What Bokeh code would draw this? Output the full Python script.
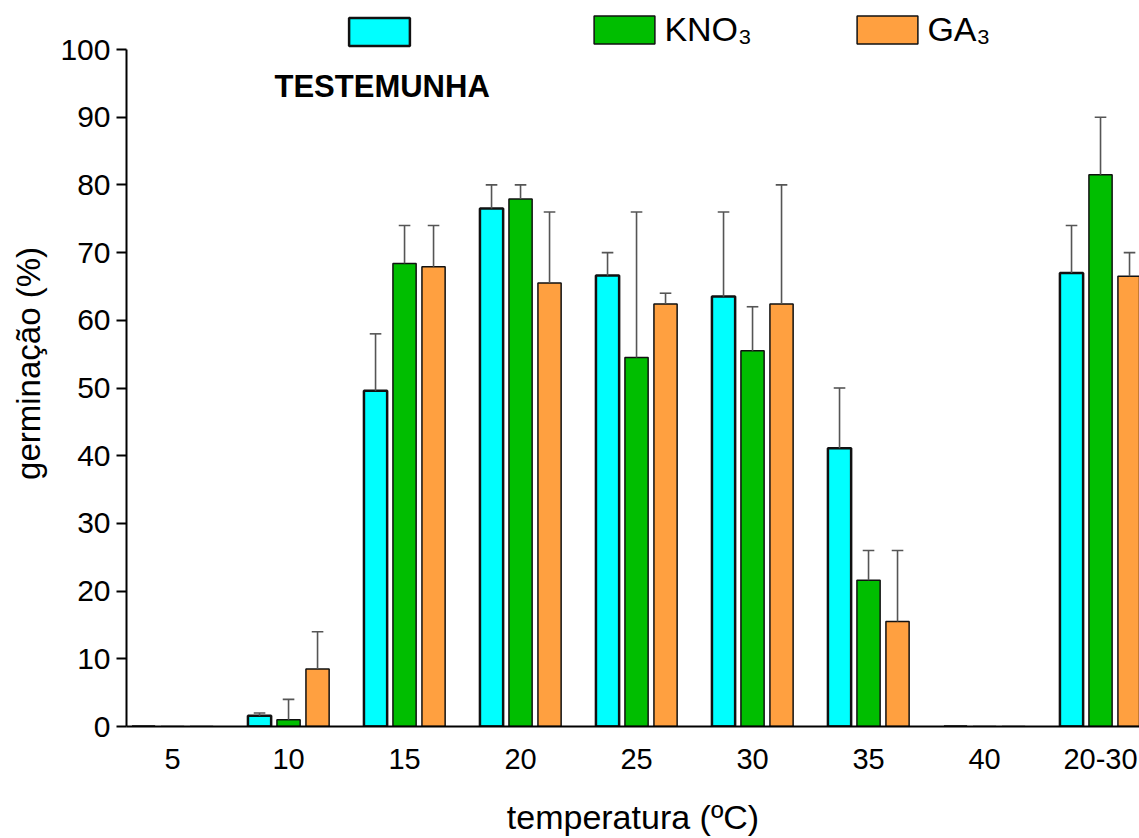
import numpy as np
from bokeh.plotting import figure
from bokeh.models import Range1d, FixedTicker, Legend, LegendItem, Label, ColumnDataSource
from bokeh.embed import file_html
from bokeh.resources import INLINE

# ---- data ----
temps = ["5", "10", "15", "20", "25", "30", "35", "40", "20-30"]
testemunha = [0, 1.6, 49.6, 76.5, 66.6, 63.5, 41.1, 0, 67.0]
kno3 = [0, 1.0, 68.4, 77.9, 54.5, 55.5, 21.6, 0, 81.5]
ga3 = [0, 8.5, 67.9, 65.5, 62.4, 62.4, 15.5, 0, 66.5]
# upper ends of the error bars (nan = none)
testemunha_err = [np.nan, 2.0, 58, 80, 70, 76, 50, np.nan, 74]
kno3_err = [np.nan, 4.0, 74, 80, 76, 62, 26, np.nan, 90]
ga3_err = [np.nan, 14.0, 74, 76, 64, 80, 26, np.nan, 70]
y_ticks = [0, 10, 20, 30, 40, 50, 60, 70, 80, 90, 100]

FONT = "Liberation Sans"
W, H = 1139, 838
PX_PER_UNIT = 6.77
FRAME_H = 726

p = figure(width=W, height=H, output_backend="svg", toolbar_location=None,
           x_range=Range1d(-0.397, 8.336), y_range=Range1d(0, FRAME_H / PX_PER_UNIT),
           min_border_left=126, min_border_right=0, min_border_top=0, min_border_bottom=112)
p.frame_width = W - 126
p.frame_height = FRAME_H
p.outline_line_color = None
p.grid.visible = False
p.background_fill_color = "white"

idx = np.arange(len(temps))
series = [
    (testemunha, testemunha_err, -0.25, "#00FFFF", 2.5, " "),
    (kno3, kno3_err, 0.0, "#00BE00", 1.5, "KNO\u2083"),
    (ga3, ga3_err, 0.25, "#FFA040", 1.5, "GA\u2083"),
]
bw = 0.2
cap = 0.05
renderers = []
for vals, errs, off, col, lw, lab in series:
    x = idx + off
    src = ColumnDataSource(dict(x=x, top=vals))
    r = p.vbar(x="x", top="top", width=bw, bottom=0, source=src, fill_color=col,
               line_color="#111111", line_width=lw)
    renderers.append((r, lab))
    v = np.array(vals, dtype=float)
    e = np.array(errs, dtype=float)
    m = ~np.isnan(e) & (e > v)
    p.segment(x0=x[m], y0=v[m], x1=x[m], y1=e[m], line_color="#555555", line_width=1.6)
    p.segment(x0=x[m] - cap, y0=e[m], x1=x[m] + cap, y1=e[m], line_color="#555555", line_width=1.6)

# axes
xa = p.xaxis[0]
xa.ticker = FixedTicker(ticks=list(idx))
xa.major_label_overrides = {int(i): t for i, t in zip(idx, temps)}
xa.major_tick_line_color = None
xa.minor_tick_line_color = None
xa.axis_line_width = 2
xa.major_label_text_font = FONT
xa.major_label_text_font_size = "29px"
xa.major_label_text_color = "black"
xa.major_label_standoff = 16
xa.axis_label = "temperatura (\u00baC)"
xa.axis_label_text_font = FONT
xa.axis_label_text_font_size = "34px"
xa.axis_label_text_font_style = "normal"
xa.axis_label_text_color = "black"
xa.axis_label_standoff = 26

ya = p.yaxis[0]
ya.ticker = FixedTicker(ticks=y_ticks)
ya.bounds = (0, 100)
ya.major_tick_out = 10
ya.major_tick_in = 0
ya.major_tick_line_width = 2
ya.minor_tick_line_color = None
ya.axis_line_width = 2
ya.major_label_text_font = FONT
ya.major_label_text_font_size = "30px"
ya.major_label_text_color = "black"
ya.major_label_standoff = 6
ya.axis_label = "germina\u00e7\u00e3o (%)"
ya.axis_label_text_font = FONT
ya.axis_label_text_font_size = "33px"
ya.axis_label_text_font_style = "normal"
ya.axis_label_text_color = "black"
ya.axis_label_standoff = 10

# legend: three separate single-item legends (legend glyphs are inset by 10% per side)
positions = [349, 594, 857]
GW, GH = 61 / 0.8, 28 / 0.8
for (r, lab), px in zip(renderers, positions):
    lg = Legend(items=[LegendItem(label=lab, renderers=[r])],
                location=(px - 126 - (GW - 61) / 2, FRAME_H - 45 - (GH - 28) / 2),
                orientation="horizontal",
                glyph_width=int(round(GW)), glyph_height=int(round(GH)), label_height=int(round(GH)),
                padding=0, margin=0, spacing=0, label_standoff=2,
                border_line_color=None, background_fill_alpha=0,
                label_text_font=FONT, label_text_font_size="34px",
                label_text_color="black", label_text_baseline="middle")
    p.add_layout(lg, "center")

p.add_layout(Label(x=-0.397 + (274 - 126) / 116, y=(FRAME_H - 86) / PX_PER_UNIT, text="TESTEMUNHA",
                   text_font=FONT, text_font_size="31px", text_font_style="bold",
                   text_color="black", text_baseline="middle"))

open("out.html", "w").write(file_html(p, INLINE))
